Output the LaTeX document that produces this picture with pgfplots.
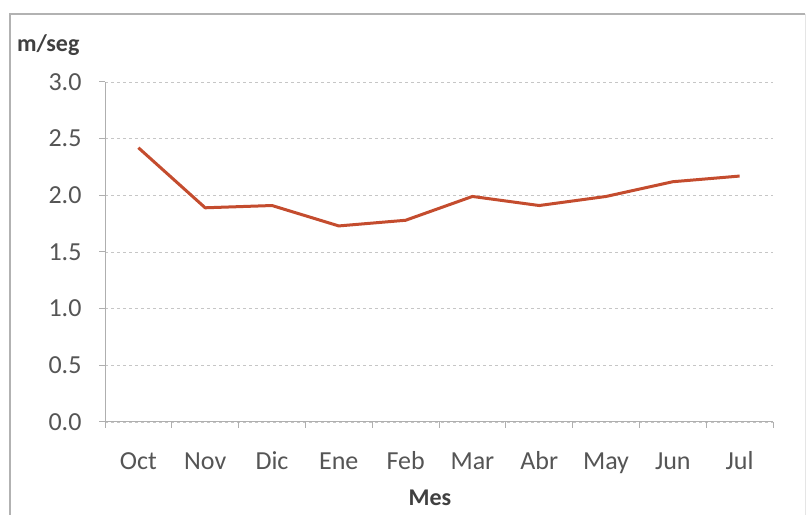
\documentclass[border=0pt]{standalone}
\usepackage{pgfplots}
\pgfplotsset{compat=1.18}
\usepackage{fontspec}
\setmainfont{Carlito}
\definecolor{linered}{RGB}{196,76,46}
\definecolor{txt}{RGB}{85,85,85}
\definecolor{axgray}{RGB}{175,175,175}
\begin{document}
\begin{tikzpicture}[x=1pt,y=1pt]
\fill[white] (0,0) rectangle (810,515);
\draw[gray!60, line width=1.2pt] (10,0) -- (10,501) -- (805,501);
\draw[gray!20, line width=0.8pt] (805,0) -- (805,501);
\node[anchor=west, font=\fontsize{24}{28}\selectfont\bfseries, text=black!75, inner sep=0pt] at (17,470) {m/seg};
\node[anchor=base, font=\fontsize{24}{28}\selectfont\bfseries, text=black!75, inner sep=0pt] at (430,9) {Mes};
\begin{axis}[
  at={(105pt,93pt)}, anchor=south west,
  scale only axis, width=668pt, height=340pt,
  xmin=-0.5, xmax=9.5, ymin=0, ymax=3,
  axis x line=bottom, axis y line=left,
  axis line style={-, axgray, line width=1pt},
  xtick={0,...,9},
  xticklabels={Oct,Nov,Dic,Ene,Feb,Mar,Abr,May,Jun,Jul},
  minor xtick={-0.5,0.5,...,9.5},
  major x tick style={draw=none},
  minor x tick style={axgray, line width=1pt},
  minor tick length=6pt,
  ytick={0,0.5,...,3},
  yticklabel style={/pgf/number format/fixed, /pgf/number format/fixed zerofill, /pgf/number format/precision=1, xshift=-14pt},
  /pgf/number format/assume math mode=true,
  y tick style={axgray, line width=1pt},
  major tick length=6pt,
  tick align=outside,
  xticklabel style={anchor=base, yshift=-42pt},
  ymajorgrids,
  grid style={dashed, gray!45, line width=0.8pt},
  tick label style={font=\fontsize{26}{30}\selectfont, text=txt},
  clip=false,
]
\addplot[linered, line width=3pt, line join=round] coordinates {
  (0,2.42) (1,1.89) (2,1.91) (3,1.73) (4,1.78) (5,1.99) (6,1.91) (7,1.99) (8,2.12) (9,2.17)
};
\end{axis}
\end{tikzpicture}
\end{document}
